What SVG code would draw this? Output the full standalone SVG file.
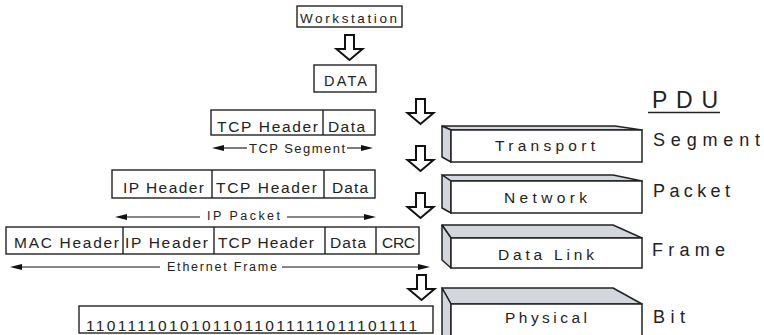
<svg xmlns="http://www.w3.org/2000/svg" width="764" height="335" viewBox="0 0 764 335">
<style>
.bx{fill:#fff;stroke:#222;stroke-width:1.4}
.dv{stroke:#222;stroke-width:1.4}
.t{font-family:"Liberation Sans",Arial,sans-serif;fill:#222}
.side{fill:#d3d7dd;stroke:#222;stroke-width:1.5;stroke-linejoin:round}
.front{fill:#fff;stroke:#222;stroke-width:1.5}
.blk{fill:#fff;stroke:#111;stroke-width:2;stroke-linejoin:miter}
.dim{stroke:#111;stroke-width:1.1;fill:none}
.ah{fill:#111}
</style>
<defs>
<path id="down" d="M-4.5,0 H4.5 V14 H13 L0,25 L-13,14 H-4.5 Z"/>
</defs>

<g id="workstation">
<rect class="bx" x="297" y="6" width="105" height="21"/>
<text class="t" x="300" y="23" font-size="13.5" textLength="97" lengthAdjust="spacing">Workstation</text>
</g>
<g id="data">
<rect class="bx" x="314" y="65" width="62" height="27"/>
<text class="t" x="324" y="86" font-size="14.5" textLength="43" lengthAdjust="spacing">DATA</text>
</g>
<g id="tcp-segment">
<rect class="bx" x="211" y="110" width="164" height="25"/>
<line class="dv" x1="323" y1="110" x2="323" y2="135"/>
<text class="t" x="217" y="132" font-size="15.5" textLength="101" lengthAdjust="spacing">TCP Header</text>
<text class="t" x="328" y="132" font-size="15.5" textLength="37" lengthAdjust="spacing">Data</text>
</g>
<g id="ip-packet">
<rect class="bx" x="112" y="170" width="263" height="28"/>
<line class="dv" x1="212" y1="170" x2="212" y2="198"/>
<line class="dv" x1="324" y1="170" x2="324" y2="198"/>
<text class="t" x="123" y="193" font-size="15.5" textLength="81" lengthAdjust="spacing">IP Header</text>
<text class="t" x="216" y="193" font-size="15.5" textLength="101" lengthAdjust="spacing">TCP Header</text>
<text class="t" x="332" y="193" font-size="15.5" textLength="36" lengthAdjust="spacing">Data</text>
</g>
<g id="ethernet-frame">
<rect class="bx" x="6" y="227" width="413" height="27"/>
<line class="dv" x1="123" y1="227" x2="123" y2="254"/>
<line class="dv" x1="214" y1="227" x2="214" y2="254"/>
<line class="dv" x1="325" y1="227" x2="325" y2="254"/>
<line class="dv" x1="376" y1="227" x2="376" y2="254"/>
<text class="t" x="14" y="248" font-size="15.5" textLength="105" lengthAdjust="spacing">MAC Header</text>
<text class="t" x="125" y="248" font-size="15.5" textLength="83" lengthAdjust="spacing">IP Header</text>
<text class="t" x="218" y="248" font-size="15.5" textLength="96" lengthAdjust="spacing">TCP Header</text>
<text class="t" x="330" y="248" font-size="15.5" textLength="36" lengthAdjust="spacing">Data</text>
<text class="t" x="382" y="248" font-size="15.5" textLength="33" lengthAdjust="spacing">CRC</text>
</g>
<g id="bits">
<rect class="bx" x="79" y="306" width="354" height="27"/>
<text class="t" x="86" y="331" font-size="15.5" textLength="331" lengthAdjust="spacing">11011110101011011011111011101111</text>
</g>

<g id="transport">
<polygon class="side" points="442,126 615,126 642,130 451,130"/>
<polygon class="side" points="442,126 451,130 451,162 442,157"/>
<rect class="front" x="451" y="130" width="191" height="32"/>
<text class="t" x="495" y="151" font-size="15.5" textLength="100" lengthAdjust="spacing">Transport</text>
</g>
<g id="network">
<polygon class="side" points="442,175 613,175 642,181 451,181"/>
<polygon class="side" points="442,175 451,181 451,213 442,208"/>
<rect class="front" x="451" y="181" width="191" height="32"/>
<text class="t" x="504" y="203" font-size="15.5" textLength="83" lengthAdjust="spacing">Network</text>
</g>
<g id="datalink">
<polygon class="side" points="442,225 613,225 642,238 451,238"/>
<polygon class="side" points="442,225 451,238 451,268 442,260"/>
<rect class="front" x="451" y="238" width="191" height="30"/>
<text class="t" x="498" y="260" font-size="15.5" textLength="96" lengthAdjust="spacing">Data Link</text>
</g>
<g id="physical">
<polygon class="side" points="442,288 613,288 642,304 451,304"/>
<polygon class="side" points="442,288 451,304 451,345 442,345"/>
<rect class="front" x="451" y="304" width="191" height="45"/>
<text class="t" x="505" y="323" font-size="15.5" textLength="82" lengthAdjust="spacing">Physical</text>
</g>

<g id="pdu">
<text class="t" x="652" y="108" font-size="23" textLength="66" lengthAdjust="spacing">PDU</text>
<line x1="648" y1="112.5" x2="720" y2="112.5" stroke="#222" stroke-width="1.6"/>
<text class="t" x="653" y="146" font-size="18" textLength="107" lengthAdjust="spacing">Segment</text>
<text class="t" x="653" y="197" font-size="18" textLength="77" lengthAdjust="spacing">Packet</text>
<text class="t" x="652" y="256" font-size="18" textLength="73" lengthAdjust="spacing">Frame</text>
<text class="t" x="653" y="323" font-size="18" textLength="32" lengthAdjust="spacing">Bit</text>
</g>

<g id="connectors">
<use href="#down" class="blk" transform="translate(349.5,35)"/>
<use href="#down" class="blk" transform="translate(420.5,99)"/>
<use href="#down" class="blk" transform="translate(420.5,146)"/>
<use href="#down" class="blk" transform="translate(420.5,193)"/>
<use href="#down" class="blk" transform="translate(421.5,275)"/>

<line class="dim" x1="220" y1="148" x2="247" y2="148"/>
<line class="dim" x1="347" y1="148" x2="365" y2="148"/>
<polygon class="ah" points="212,148 224,145 224,151"/>
<polygon class="ah" points="373,148 361,145 361,151"/>
<text class="t" x="249" y="153" font-size="13" textLength="96" lengthAdjust="spacing">TCP Segment</text>

<line class="dim" x1="123" y1="217" x2="200" y2="217"/>
<line class="dim" x1="287" y1="217" x2="368" y2="217"/>
<polygon class="ah" points="115,217 127,214 127,220"/>
<polygon class="ah" points="376,217 364,214 364,220"/>
<text class="t" x="207" y="220" font-size="12.5" textLength="73" lengthAdjust="spacing">IP Packet</text>

<line class="dim" x1="18" y1="267" x2="160" y2="267"/>
<line class="dim" x1="282" y1="267" x2="422" y2="267"/>
<polygon class="ah" points="10,267 22,264 22,270"/>
<polygon class="ah" points="430,267 418,264 418,270"/>
<text class="t" x="167" y="271" font-size="12.5" textLength="110" lengthAdjust="spacing">Ethernet Frame</text>
</g>
</svg>
